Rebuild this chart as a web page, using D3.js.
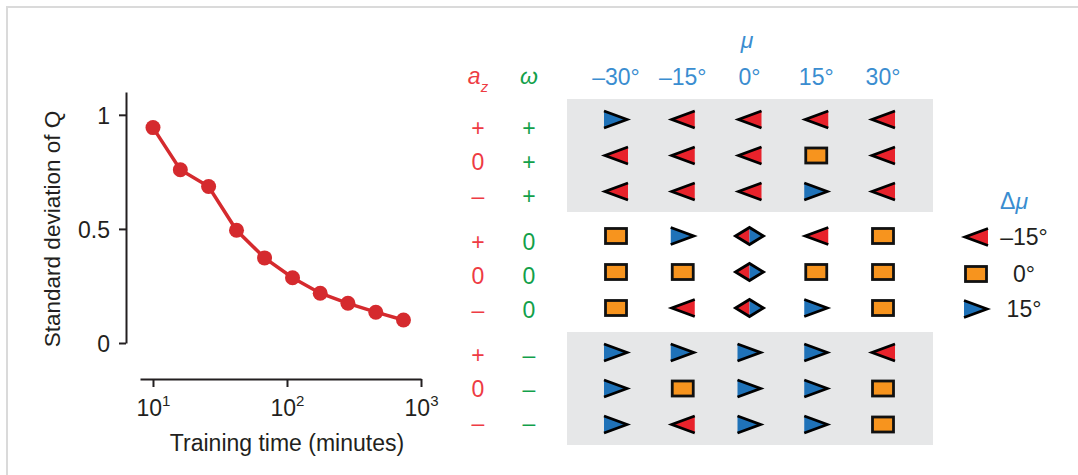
<!DOCTYPE html>
<html>
<head>
<meta charset="utf-8">
<script src="https://cdn.jsdelivr.net/npm/d3@7"></script>
<style>
  html, body { margin: 0; padding: 0; background: #fff; }
  svg { display: block; font-family: "Liberation Sans", Arial, Helvetica, sans-serif; }
</style>
</head>
<body>
<svg id="chart" width="1078" height="475"></svg>
<script>
// ---------------- data ----------------
const trainingTimes = [10, 16, 26, 42, 68, 110, 177, 285, 460, 740];
const stdQ = [0.944, 0.759, 0.686, 0.494, 0.373, 0.286, 0.218, 0.174, 0.135, 0.101];
const xTicks = [10, 100, 1000];
const yTicks = [0, 0.5, 1];

const muValues = [-30, -15, 0, 15, 30];
const azLabels = ["+", "0", "–", "+", "0", "–", "+", "0", "–"];
const omegaLabels = ["+", "+", "+", "0", "0", "0", "–", "–", "–"];
// Δμ per row (a_z, ω) and column μ ; "±15" = split marker
const deltaMu = [
  [15, -15, -15, -15, -15],
  [-15, -15, -15, 0, -15],
  [-15, -15, -15, 15, -15],
  [0, 15, "±15", -15, 0],
  [0, 0, "±15", 0, 0],
  [0, -15, "±15", 15, 0],
  [15, 15, 15, 15, -15],
  [15, 0, 15, 15, 0],
  [15, -15, 15, 15, 0]
];
const legendValues = [-15, 0, 15];
const shadedGroups = [0, 2];

// ---------------- styles ----------------
const RED = "#e8222b", BLUE = "#1f72b8", ORANGE = "#f7941e", PANEL = "#e6e7e8";
const TXT = "#231f20", LINE_RED = "#d52a2e";
const AZ_COL = "#ee3b43", OM_COL = "#12a04a", MU_COL = "#3a8dd0";
const FS = 23;
const FONT = "Liberation Sans, Arial, sans-serif";

const svg = d3.select("#chart");

// frame
svg.append("path").attr("d", "M7,475V7H1078").attr("fill", "none")
  .attr("stroke", "#dadada").attr("stroke-width", 2);

// ---------------- left line chart ----------------
const x = d3.scaleLog().domain([8, 1000]).range([140, 421]);
const y = d3.scaleLinear().domain([0, 1.1]).range([343, 92]);

const yAxis = svg.append("g").attr("transform", "translate(126,0)")
  .call(d3.axisLeft(y).tickValues(yTicks).tickSize(7).tickSizeOuter(0).tickPadding(9)
    .tickFormat(d => d3.format("")(d)));
yAxis.select(".domain").attr("stroke", TXT).attr("stroke-width", 2);
yAxis.selectAll(".tick line").attr("stroke", TXT).attr("stroke-width", 2);
yAxis.selectAll(".tick text").attr("font-size", FS).attr("fill", TXT)
  .attr("font-family", FONT).attr("dy", "0.36em");

const xAxis = svg.append("g").attr("transform", "translate(0,379)")
  .call(d3.axisBottom(x).tickValues(xTicks).tickSize(8).tickSizeOuter(0).tickFormat(() => ""));
xAxis.select(".domain").attr("stroke", TXT).attr("stroke-width", 2);
xAxis.selectAll(".tick line").attr("stroke", TXT).attr("stroke-width", 2);
xAxis.selectAll(".tick text").remove();
xAxis.selectAll(".tick").each(function(d) {
  const t = d3.select(this).append("text")
    .attr("y", 37).attr("text-anchor", "middle").attr("fill", TXT)
    .attr("font-size", FS).attr("font-family", FONT);
  t.append("tspan").text("10");
  t.append("tspan").attr("font-size", 15).attr("dy", -10).text(Math.round(Math.log10(d)));
});

svg.append("text").attr("x", 287).attr("y", 451).attr("text-anchor", "middle")
  .attr("font-size", FS).attr("fill", TXT).text("Training time (minutes)");
svg.append("text").attr("transform", "translate(60,229) rotate(-90)")
  .attr("text-anchor", "middle").attr("font-size", 22.5).attr("fill", TXT)
  .text("Standard deviation of Q");

const pts = trainingTimes.map((t, i) => [t, stdQ[i]]);
svg.append("path").datum(pts)
  .attr("d", d3.line().x(d => x(d[0])).y(d => y(d[1])))
  .attr("fill", "none").attr("stroke", LINE_RED).attr("stroke-width", 3.5);
svg.append("g").selectAll("circle").data(pts).join("circle")
  .attr("cx", d => x(d[0])).attr("cy", d => y(d[1])).attr("r", 7.5)
  .attr("fill", LINE_RED);

// ---------------- right table ----------------
const col = d3.scalePoint().domain(muValues).range([616, 883]);
const groupY = d3.scalePoint().domain([0, 1, 2]).range([155.5, 388.5]);
const labelGroupY = d3.scalePoint().domain([0, 1, 2]).range([162, 389]);
const rowY = i => groupY(Math.floor(i / 3)) + (i % 3 - 1) * 36;
const labelY = i => labelGroupY(Math.floor(i / 3)) + (i % 3 - 1) * 34;

// shaded panels
svg.append("g").selectAll("rect").data(shadedGroups).join("rect")
  .attr("x", col(muValues[0]) - 49).attr("width", col(muValues[4]) - col(muValues[0]) + 99)
  .attr("y", g => groupY(g) - 56.5).attr("height", 113).attr("fill", PANEL);

// headers
const azH = svg.append("text").attr("x", 478).attr("y", 84).attr("text-anchor", "middle")
  .attr("fill", AZ_COL).attr("font-size", FS);
azH.append("tspan").attr("font-style", "italic").text("a");
azH.append("tspan").attr("font-style", "italic").attr("font-size", 15).attr("dy", 8).text("z");
svg.append("text").attr("x", 529).attr("y", 84).attr("text-anchor", "middle")
  .attr("fill", OM_COL).attr("font-size", FS).attr("font-style", "italic").text("ω");
svg.append("text").attr("x", 747).attr("y", 48).attr("text-anchor", "middle")
  .attr("fill", MU_COL).attr("font-size", FS).attr("font-style", "italic").text("μ");
const degFmt = v => (v < 0 ? "–" + Math.abs(v) : String(v)) + "°";
svg.append("g").selectAll("text").data(muValues).join("text")
  .attr("x", d => col(d)).attr("y", 85).attr("text-anchor", "middle")
  .attr("fill", MU_COL).attr("font-size", FS).text(degFmt);

// row labels
svg.append("g").selectAll("text").data(azLabels).join("text")
  .attr("x", 478).attr("y", (d, i) => labelY(i)).attr("dy", "0.36em")
  .attr("text-anchor", "middle").attr("fill", AZ_COL).attr("font-size", FS).text(d => d);
svg.append("g").selectAll("text").data(omegaLabels).join("text")
  .attr("x", 529).attr("y", (d, i) => labelY(i)).attr("dy", "0.36em")
  .attr("text-anchor", "middle").attr("fill", OM_COL).attr("font-size", FS).text(d => d);

// marker drawing
function drawMarker(g, v) {
  const sw = 2.8;
  if (v === -15) {
    g.append("path").attr("d", "M-12,0L12,-8.5L12,8.5Z").attr("fill", RED);
    g.append("path").attr("d", "M12,-8.5L-11,0L12,8.5").attr("fill", "none")
      .attr("stroke", "#000").attr("stroke-width", sw).attr("stroke-linejoin", "miter");
  } else if (v === 15) {
    g.append("path").attr("d", "M12,0L-12,-8.5L-12,8.5Z").attr("fill", BLUE);
    g.append("path").attr("d", "M-12,-8.5L11,0L-12,8.5").attr("fill", "none")
      .attr("stroke", "#000").attr("stroke-width", sw).attr("stroke-linejoin", "miter");
  } else if (v === 0) {
    g.append("rect").attr("x", -10.5).attr("y", -7.5).attr("width", 21).attr("height", 15)
      .attr("fill", ORANGE).attr("stroke", "#111").attr("stroke-width", sw);
  } else {
    g.append("path").attr("d", "M-14,0L0,-8.5L0,8.5Z").attr("fill", RED);
    g.append("path").attr("d", "M14,0L0,-8.5L0,8.5Z").attr("fill", BLUE);
    g.append("path").attr("d", "M-14,0L0,-8.5L14,0L0,8.5Z").attr("fill", "none")
      .attr("stroke", "#000").attr("stroke-width", sw).attr("stroke-linejoin", "miter");
  }
}

const cells = [];
deltaMu.forEach((row, i) => row.forEach((v, j) => cells.push({ i, mu: muValues[j], v })));
svg.append("g").selectAll("g").data(cells).join("g")
  .attr("transform", d => `translate(${col(d.mu)},${rowY(d.i)})`)
  .each(function(d) { drawMarker(d3.select(this), d.v); });

// legend
const lt = svg.append("text").attr("x", 1014).attr("y", 209).attr("text-anchor", "middle")
  .attr("fill", MU_COL).attr("font-size", FS);
lt.append("tspan").text("Δ");
lt.append("tspan").attr("font-style", "italic").text("μ");
const leg = svg.append("g").selectAll("g").data(legendValues).join("g")
  .attr("transform", (d, k) => `translate(0,${[237, 274, 309][k]})`);
leg.each(function(d) {
  const g = d3.select(this).append("g").attr("transform", "translate(976,0)");
  drawMarker(g, d);
});
leg.append("text").attr("x", 1024).attr("dy", "0.36em").attr("text-anchor", "middle")
  .attr("fill", TXT).attr("font-size", FS).text(d => degFmt(d));
</script>
</body>
</html>
